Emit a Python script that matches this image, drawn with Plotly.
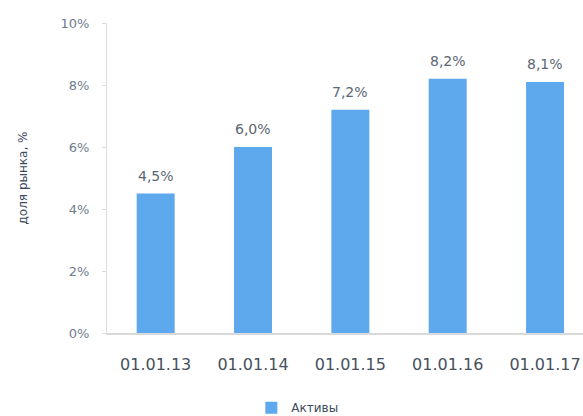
import plotly.graph_objects as go

# Market share of assets by reporting date
dates = ["01.01.13", "01.01.14", "01.01.15", "01.01.16", "01.01.17"]
share = [4.5, 6.0, 7.2, 8.2, 8.1]
series_name = "Активы"
y_title = "доля рынка, %"
y_ticks = [0, 2, 4, 6, 8, 10]
y_tick_text = [f"{t}%" for t in y_ticks]

bar_color = "#5ea8ee"
font_family = "DejaVu Sans"

fig = go.Figure()
fig.add_trace(go.Bar(
    x=list(range(len(dates))),
    y=share,
    name=series_name,
    marker=dict(color=bar_color, line=dict(width=0)),
    width=0.39,
    showlegend=True,
))

# value labels above the bars
for i, v in enumerate(share):
    fig.add_annotation(
        x=i, y=v, xref="x", yref="y",
        text=f"{v:.1f}".replace(".", ",") + "%",
        showarrow=False, yanchor="bottom", yshift=8,
        font=dict(family=font_family, size=14, color="#5b6672"),
    )

fig.update_layout(
    width=583, height=416,
    margin=dict(l=107, r=0, t=23, b=83),
    paper_bgcolor="white", plot_bgcolor="white",
    showlegend=True,
    legend=dict(
        orientation="h", xref="container", yref="container",
        x=0.51, xanchor="center", y=0.02, yanchor="middle",
        font=dict(family=font_family, size=12, color="#3c4a5c"),
        itemwidth=30,
    ),
    font=dict(family=font_family),
)

fig.update_xaxes(
    range=[-0.5, 4.39],
    tickmode="array", tickvals=list(range(len(dates))), ticktext=dates,
    showline=True, linecolor="#d9d9d9", linewidth=1.5,
    ticks="", ticklabelstandoff=16,
    tickfont=dict(family=font_family, size=16, color="#46515d"),
    showgrid=False, zeroline=False,
)

fig.update_yaxes(
    range=[0, 10],
    tickmode="array", tickvals=y_ticks, ticktext=y_tick_text,
    showline=True, linecolor="#dedede", linewidth=1,
    ticks="outside", ticklen=4, tickcolor="#e8d8cc",
    ticklabelstandoff=10,
    tickfont=dict(family=font_family, size=13, color="#6f7d8c"),
    showgrid=False, zeroline=False,
    title=dict(text=y_title, standoff=30,
               font=dict(family=font_family, size=12, color="#3c4a5c")),
)

fig.write_html("out.html")
